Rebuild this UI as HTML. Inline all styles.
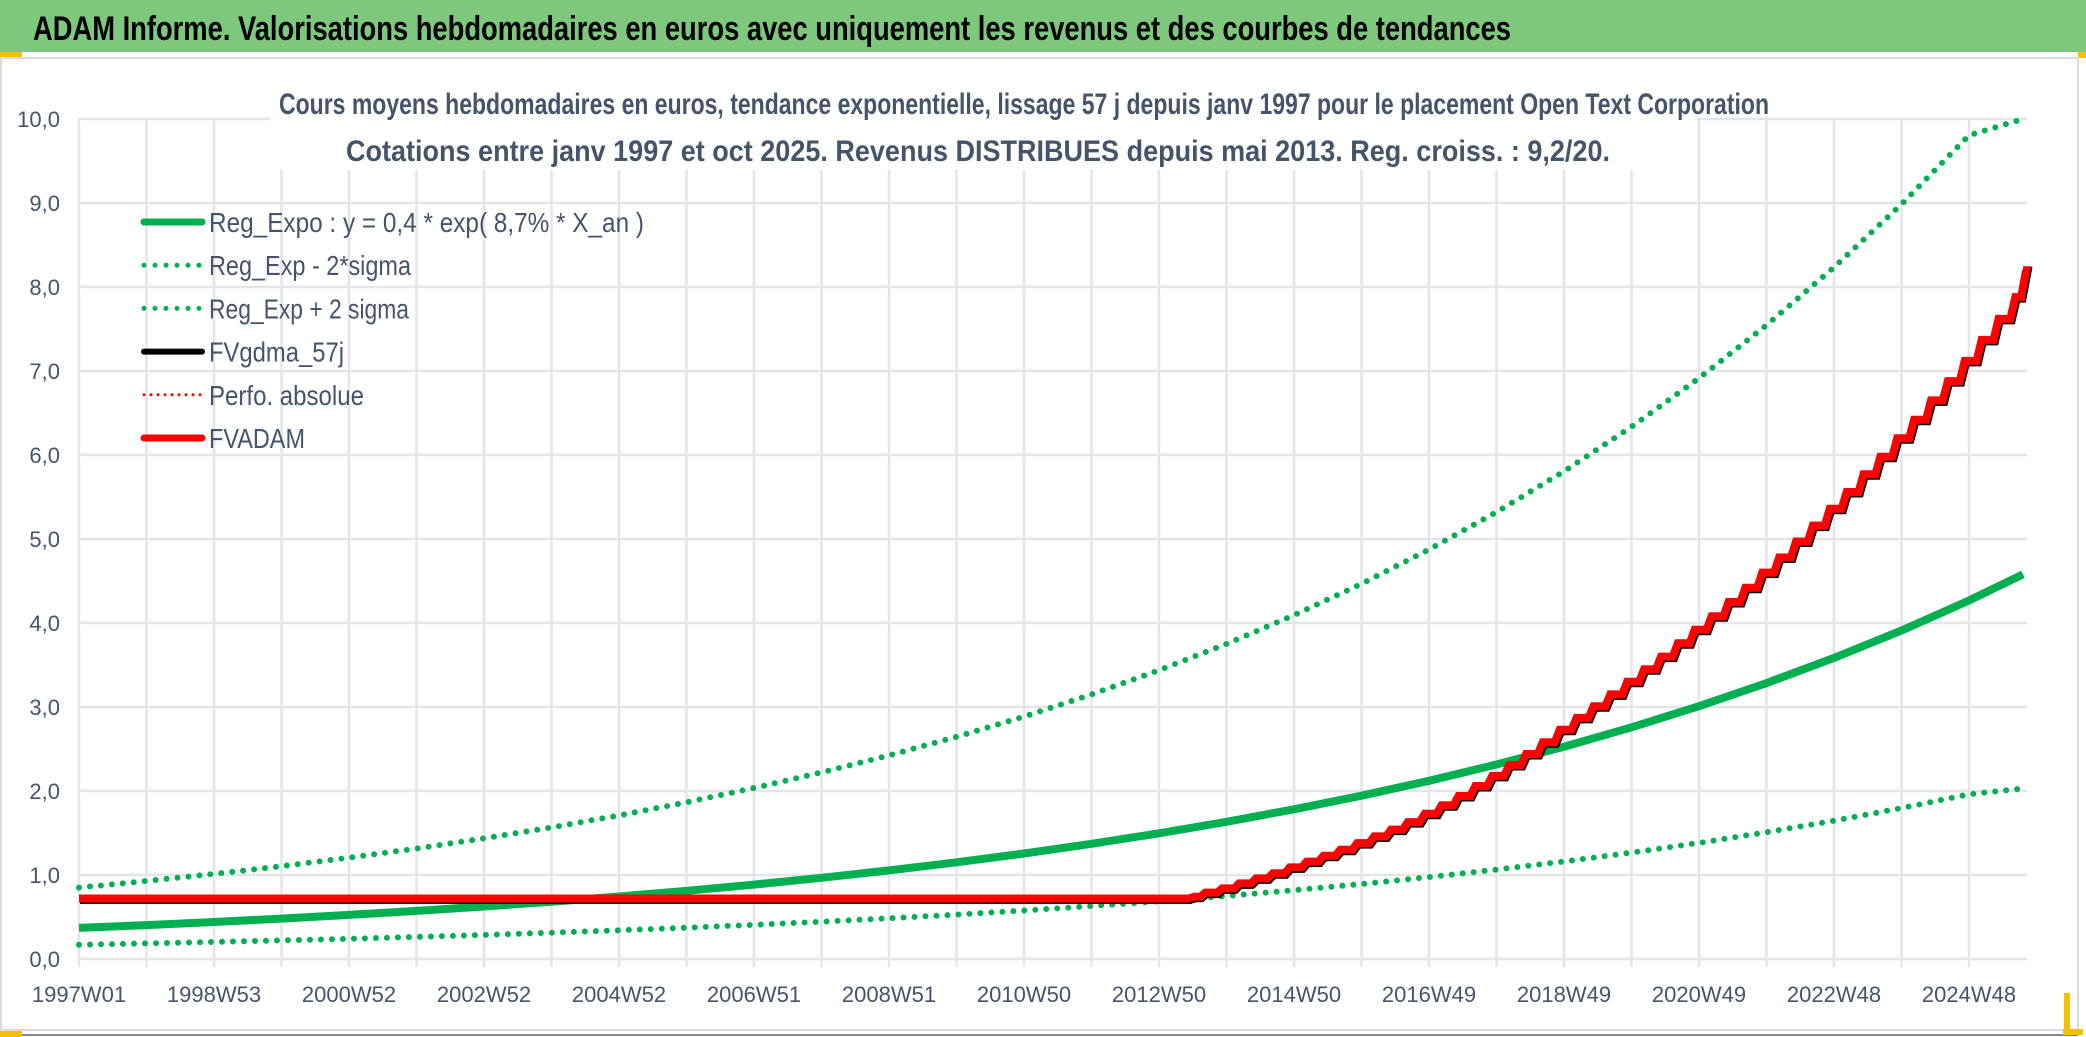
<!DOCTYPE html>
<html><head><meta charset="utf-8"><style>
html,body{margin:0;padding:0;background:#fff;}
svg{display:block;font-family:"Liberation Sans Narrow","Liberation Sans",sans-serif;}
</style></head><body>
<svg id="chart" width="2086" height="1037" viewBox="0 0 2086 1037">
<rect x="0" y="0" width="2086" height="1037" fill="#fff"/>
<rect x="0" y="0" width="2086" height="52" fill="#7dc87d"/>
<text x="33" y="40" font-size="34" font-weight="bold" fill="#000" textLength="1478" lengthAdjust="spacingAndGlyphs">ADAM Informe. Valorisations hebdomadaires en euros avec uniquement les revenus et des courbes de tendances</text>
<rect x="0" y="52" width="22" height="6" fill="#f5c000"/>
<rect x="2078" y="52" width="8" height="6" fill="#f5c000"/>
<rect x="1" y="58" width="2077" height="972" fill="none" stroke="#d8dbe0" stroke-width="2"/>
<line x1="0" y1="1035" x2="2078" y2="1035" stroke="#888" stroke-width="2"/>
<rect x="0" y="1031" width="22" height="6" fill="#f5c000"/>
<rect x="2064" y="993" width="6" height="42" fill="#f5c000"/>
<rect x="2063" y="1029" width="20" height="6" fill="#f5c000"/>
<g id="grid"></g>
<rect x="270" y="59" width="1427" height="111" fill="#fff"/>
<text x="1024" y="114" font-size="30" font-weight="bold" fill="#44546a" text-anchor="middle" textLength="1490" lengthAdjust="spacingAndGlyphs">Cours moyens hebdomadaires en euros, tendance exponentielle, lissage 57 j depuis janv 1997 pour le placement Open Text Corporation</text>
<text x="978" y="161" font-size="30" font-weight="bold" fill="#44546a" text-anchor="middle" textLength="1264" lengthAdjust="spacingAndGlyphs">Cotations entre janv 1997 et oct 2025. Revenus DISTRIBUES depuis mai 2013. Reg. croiss. : 9,2/20.</text>
<g id="axes"></g>
<g id="series"></g>
<g id="legend"></g>
</svg>
<script>
// years since 1997W01 (one gridline per ~52 weeks)
const trendYears = [0,1,2,3,4,5,6,7,8,9,10,11,12,13,14,15,16,17,18,19,20,21,22,23,24,25,26,27,28,28.8];
const regExpo = [0.37,0.404,0.441,0.481,0.525,0.573,0.625,0.682,0.744,0.812,0.886,0.967,1.055,1.151,1.256,1.371,1.496,1.633,1.782,1.944,2.122,2.316,2.527,2.758,3.009,3.284,3.584,3.911,4.268,4.58];
const regLow = [0.17,0.186,0.203,0.221,0.241,0.263,0.287,0.313,0.342,0.373,0.407,0.444,0.485,0.529,0.577,0.630,0.687,0.750,0.819,0.893,0.975,1.064,1.161,1.267,1.382,1.509,1.646,1.797,1.961,2.03];
const regHigh = [0.85,0.928,1.013,1.105,1.206,1.316,1.436,1.567,1.710,1.866,2.036,2.222,2.424,2.645,2.886,3.150,3.437,3.751,4.094,4.467,4.875,5.320,5.806,6.336,6.914,7.545,8.234,8.986,9.806,10.0];
const adamYears = [0,16.4,16.5,16.75,17,17.25,17.5,17.75,18,18.25,18.5,18.75,19,19.25,19.5,19.75,20,20.25,20.5,20.75,21,21.25,21.5,21.75,22,22.25,22.5,22.75,23,23.25,23.5,23.75,24,24.25,24.5,24.75,25,25.25,25.5,25.75,26,26.25,26.5,26.75,27,27.25,27.5,27.75,28,28.25,28.5,28.75,28.8];
const adamValues = [0.72,0.72,0.74,0.79,0.84,0.90,0.96,1.02,1.09,1.16,1.23,1.30,1.38,1.46,1.54,1.63,1.73,1.83,1.94,2.06,2.18,2.31,2.44,2.58,2.73,2.87,3.01,3.15,3.30,3.45,3.60,3.76,3.92,4.08,4.25,4.42,4.60,4.78,4.97,5.16,5.36,5.56,5.77,5.98,6.20,6.42,6.65,6.88,7.12,7.37,7.62,7.88,8.2];
const yTicks = ["0,0","1,0","2,0","3,0","4,0","5,0","6,0","7,0","8,0","9,0","10,0"];
const xTickLabels = ["1997W01","1998W53","2000W52","2002W52","2004W52","2006W51","2008W51","2010W50","2012W50","2014W50","2016W49","2018W49","2020W49","2022W48","2024W48"];
const legendLabels = ["Reg_Expo : y = 0,4 * exp( 8,7% *  X_an )","Reg_Exp - 2*sigma","Reg_Exp + 2 sigma","FVgdma_57j","Perfo. absolue","FVADAM"];

const NS="http://www.w3.org/2000/svg";
const X0=79, XS=67.5, Y0=959, YS=84, XEND=2027;
const xs=t=>X0+t*XS, ys=v=>Y0-v*YS;
function mk(tag,attrs,parent){const e=document.createElementNS(NS,tag);for(const k in attrs)e.setAttribute(k,attrs[k]);parent.appendChild(e);return e;}
const grid=document.getElementById('grid'),axes=document.getElementById('axes'),ser=document.getElementById('series'),leg=document.getElementById('legend');
yTicks.forEach((lab,i)=>{
  const l=mk('line',{x1:X0,x2:XEND,y1:ys(i),y2:ys(i),stroke:'#e3e5ea','stroke-width':2.5},grid);
  
  
  const t=mk('text',{x:60,y:ys(i)+8,'font-size':22,fill:'#44546a','text-anchor':'end'},axes);
  t.textContent=lab;
  
  
});
for(let k=0;k<=28;k++){
  const l=mk('line',{x1:xs(k),x2:xs(k),y1:ys(10),y2:Y0+8,stroke:'#e3e5ea','stroke-width':2.5},grid);
  
  
}
xTickLabels.forEach((lab,i)=>{
  const t=mk('text',{x:xs(i*2),y:1002,'font-size':22,fill:'#44546a','text-anchor':'middle'},axes);
  t.textContent=lab;
  
  
});
function pathOf(xa,va){return xa.map((t,i)=>(i?'L':'M')+xs(t).toFixed(1)+','+ys(va[i]).toFixed(1)).join('');}
function stairOf(xa,va){let d='M'+xs(xa[0]).toFixed(1)+','+ys(va[0]).toFixed(1);
  for(let i=1;i<xa.length;i++){const xp=xs(xa[i-1]),xc=xs(xa[i]);
    if(xa[i-1]<16.4){d+='L'+xc.toFixed(1)+','+ys(va[i]).toFixed(1);continue;}
    const xm=xp+(xc-xp)*0.45;d+='L'+xm.toFixed(1)+','+ys(va[i-1]).toFixed(1)+'L'+(xm+5).toFixed(1)+','+ys(va[i]).toFixed(1)+'L'+xc.toFixed(1)+','+ys(va[i]).toFixed(1);}
  return d;}
const pHigh=mk('path',{d:pathOf(trendYears,regHigh),fill:'none',stroke:'#00b050','stroke-width':6,'stroke-linecap':'round','stroke-dasharray':'0 11'},ser);


const pLow=mk('path',{d:pathOf(trendYears,regLow),fill:'none',stroke:'#00b050','stroke-width':6,'stroke-linecap':'round','stroke-dasharray':'0 11'},ser);


const pExp=mk('path',{d:pathOf(trendYears,regExpo),fill:'none',stroke:'#00b050','stroke-width':8},ser);


const pBlk=mk('path',{d:stairOf(adamYears,adamValues),fill:'none',stroke:'#000','stroke-width':9,transform:'translate(1,1)'},ser);


const pRed=mk('path',{d:stairOf(adamYears,adamValues),fill:'none',stroke:'#ff0000','stroke-width':8},ser);


const legStyles=[{s:'#00b050',w:7,da:''},{s:'#00b050',w:5,da:'0 11'},{s:'#00b050',w:5,da:'0 11'},{s:'#000',w:6,da:''},{s:'#ff0000',w:3,da:'0 7'},{s:'#ff0000',w:7,da:''}];
const legWidths=[435,202,200,135,155,96];
legendLabels.forEach((lab,i)=>{
  const y=222+i*43.2;const st=legStyles[i];
  const l=mk('line',{x1:144,x2:202,y1:y,y2:y,stroke:st.s,'stroke-width':st.w,'stroke-linecap':'round'},leg);
  if(st.da)l.setAttribute('stroke-dasharray',st.da);
  
  
  const t=mk('text',{x:209,y:y+10,'font-size':28,fill:'#44546a',textLength:legWidths[i],lengthAdjust:'spacingAndGlyphs'},leg);
  t.textContent=lab;
  
  
});
</script>
</body></html>
